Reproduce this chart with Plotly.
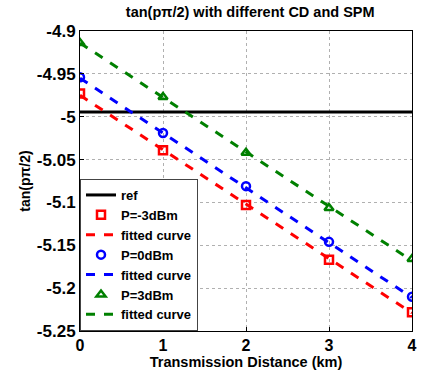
import plotly.graph_objects as go

distance = [0, 1, 2, 3, 4]
ref_value = -4.9945
p_m3 = [-4.973, -5.039, -5.103, -5.167, -5.228]
p_0 = [-4.954, -5.019, -5.081, -5.146, -5.210]
p_p3 = [-4.914, -4.977, -5.042, -5.1065, -5.166]
fit_x = [0, 4]
fit_m3 = [-4.975, -5.229]
fit_0 = [-4.955, -5.211]
fit_p3 = [-4.914, -5.168]
yticks = [-4.9, -4.95, -5.0, -5.05, -5.1, -5.15, -5.2, -5.25]
ytick_labels = ["-4.9", "-4.95", "-5", "-5.05", "-5.1", "-5.15", "-5.2", "-5.25"]
xticks = [0, 1, 2, 3, 4]

FONT = "Arial, Liberation Sans, sans-serif"
fig = go.Figure()
fig.add_trace(go.Scatter(x=[0, 4], y=[ref_value, ref_value], mode="lines",
                         line=dict(color="black", width=3), name="ref"))
series = [
    (p_m3, fit_m3, "#ff0000", "square-open", "P=-3dBm"),
    (p_0, fit_0, "#0000ff", "circle-open", "P=0dBm"),
    (p_p3, fit_p3, "#008000", "triangle-up-open", "P=3dBm"),
]
for pts, fit, c, sym, nm in series:
    fig.add_trace(go.Scatter(x=distance, y=pts, mode="markers", name=nm,
                             marker=dict(symbol=sym, size=8, color=c,
                                         line=dict(color=c, width=2.5))))
    fig.add_trace(go.Scatter(x=fit_x, y=fit, mode="lines", name="fitted curve",
                             line=dict(color=c, width=3, dash="dash")))

fig.update_layout(
    width=422, height=376,
    margin=dict(l=80, r=5, t=31, b=45),
    paper_bgcolor="white", plot_bgcolor="white",
    font=dict(family=FONT, color="black"),
    title=dict(text="tan(pπ/2) with different CD and SPM", x=0.593, xanchor="center",
               y=0.968, yanchor="middle", font=dict(size=14.5, weight="bold", family=FONT)),
    legend=dict(x=0, y=0, xanchor="left", yanchor="bottom", bgcolor="white",
                bordercolor="#444", borderwidth=1, font=dict(size=13, weight="bold", family=FONT),
                tracegroupgap=0, itemwidth=30, itemsizing="trace"),
    showlegend=True,
)
fig.update_xaxes(range=[0, 4], tickvals=xticks, showgrid=True, gridcolor="#b0b0b0",
                 griddash="dot", gridwidth=1, showline=True, linecolor="black", mirror=True,
                 ticks="inside", ticklen=4, tickcolor="black", zeroline=False,
                 tickfont=dict(size=16, weight="bold", family=FONT),
                 title=dict(text="Transmission Distance (km)", standoff=0,
                            font=dict(size=14.5, weight="bold", family=FONT)))
fig.update_yaxes(range=[-5.25, -4.9], tickvals=yticks, ticktext=ytick_labels, showgrid=True,
                 gridcolor="#b0b0b0", griddash="dot", gridwidth=1, showline=True,
                 linecolor="black", mirror=True, ticks="inside", ticklen=4, tickcolor="black",
                 zeroline=False, tickfont=dict(size=17, weight="bold", family=FONT),
                 title=dict(text="tan(pπ/2)", standoff=2,
                            font=dict(size=14, weight="bold", family=FONT)))
fig.write_html("out.html")
